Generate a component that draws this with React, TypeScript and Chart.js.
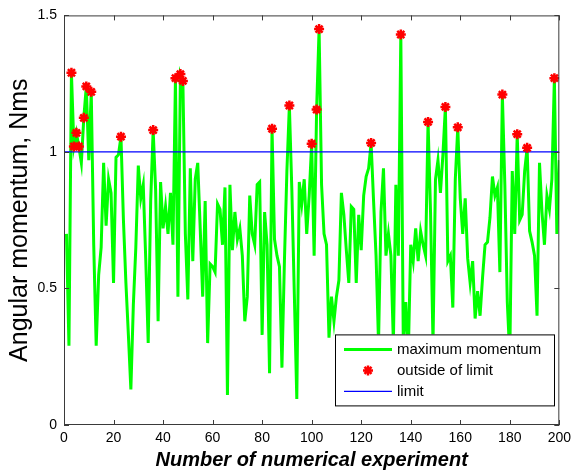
import React, { useEffect, useRef } from 'react';
import { Chart, registerables } from 'chart.js';

Chart.register(...registerables);

// Maximum angular momentum for each numerical experiment (1..200)
const momentum: number[] = [
  0.70, 0.29, 1.29, 1.02, 1.07, 1.02, 0.96, 1.125, 1.24, 0.97,
  1.22, 0.66, 0.29, 0.55, 0.65, 0.96, 0.73, 0.90, 0.85, 0.52,
  0.98, 0.99, 1.056, 0.75, 0.52, 0.33, 0.13, 0.44, 0.65, 0.95,
  0.83, 0.88, 0.61, 0.30, 0.82, 1.08, 0.86, 0.38, 0.89, 0.72,
  0.80, 0.70, 0.85, 0.66, 1.27, 0.47, 1.285, 1.26, 0.70, 0.46,
  0.94, 0.60, 0.90, 0.96, 0.72, 0.47, 0.82, 0.30, 0.59, 0.58,
  0.56, 0.81, 0.79, 0.66, 0.87, 0.11, 0.88, 0.64, 0.78, 0.68,
  0.72, 0.62, 0.38, 0.47, 0.84, 0.70, 0.66, 0.88, 0.89, 0.33,
  0.78, 0.66, 0.19, 1.085, 0.68, 0.62, 0.58, 0.21, 0.60, 0.93,
  1.17, 0.86, 0.48, 0.095, 0.89, 0.81, 0.90, 0.70, 0.84, 1.03,
  0.62, 1.155, 1.45, 0.88, 0.70, 0.66, 0.32, 0.47, 0.38, 0.47,
  0.53, 0.85, 0.77, 0.64, 0.52, 0.80, 0.79, 0.52, 0.77, 0.64,
  0.84, 0.91, 0.94, 1.033, 0.82, 0.62, 0.30, 0.78, 0.94, 0.62,
  0.70, 0.62, 0.30, 0.88, 0.62, 1.43, 0.30, 0.45, 0.25, 0.66,
  0.60, 0.72, 0.60, 0.71, 0.66, 0.62, 1.11, 0.78, 0.30, 0.90,
  0.97, 0.85, 0.99, 1.165, 0.60, 0.62, 0.43, 0.90, 1.09, 0.83,
  0.70, 0.83, 0.61, 0.52, 0.60, 0.39, 0.49, 0.40, 0.54, 0.66,
  0.67, 0.76, 0.91, 0.84, 0.87, 0.56, 1.21, 0.88, 0.45, 0.25,
  0.93, 0.70, 1.065, 0.75, 0.77, 0.93, 1.015, 0.71, 0.67, 0.62,
  0.40, 0.96, 0.78, 0.66, 0.84, 0.79, 0.90, 1.27, 0.70, 0.97,
];

const limit = 1;
const xRange = [0, 200];
const yRange = [0, 1.5];
const xTicks = [0, 20, 40, 60, 80, 100, 120, 140, 160, 180, 200];
const yTicks = [0, 0.5, 1, 1.5];
const yTickLabels = ['0', '0.5', '1', '1.5'];

const FONT = '"Liberation Sans", Arial, Helvetica, sans-serif';

const framePlugin = {
  id: 'matlabFrame',
  afterDatasetsDraw(chart: any) {
    const { ctx, chartArea, scales } = chart;
    const { left, right, top, bottom } = chartArea;
    ctx.save();
    ctx.strokeStyle = '#3a3a3a';
    ctx.lineWidth = 1;
    ctx.strokeRect(left + 0.5, top + 0.5, right - left - 1, bottom - top - 1);
    ctx.beginPath();
    const tl = 5;
    xTicks.forEach((v) => {
      const px = Math.round(scales.x.getPixelForValue(v)) + 0.5;
      ctx.moveTo(px, bottom);
      ctx.lineTo(px, bottom - tl);
      ctx.moveTo(px, top);
      ctx.lineTo(px, top + tl);
    });
    yTicks.forEach((v) => {
      const py = Math.round(scales.y.getPixelForValue(v)) + 0.5;
      ctx.moveTo(left, py);
      ctx.lineTo(left + tl, py);
      ctx.moveTo(right, py);
      ctx.lineTo(right - tl, py);
    });
    ctx.stroke();
    ctx.restore();
  },
  afterDraw(chart: any) {
    const { ctx, chartArea } = chart;
    const ds = chart.data.datasets;
    const boxL = chartArea.left + 271;
    const boxT = chartArea.top + 319;
    const boxW = 219;
    const boxH = 71;
    ctx.save();
    ctx.fillStyle = '#ffffff';
    ctx.fillRect(boxL, boxT, boxW, boxH);
    ctx.strokeStyle = '#000000';
    ctx.lineWidth = 1;
    ctx.strokeRect(boxL + 0.5, boxT + 0.5, boxW, boxH);
    const rows = [boxT + 15, boxT + 36, boxT + 57];
    const order = [0, 1, 2];
    order.forEach((di, r) => {
      const d = ds[di];
      const y = rows[r];
      const x0 = boxL + 9;
      const x1 = boxL + 57;
      ctx.strokeStyle = d.borderColor;
      ctx.lineWidth = d.borderWidth;
      ctx.beginPath();
      if (d.showLine === false) {
        const cx = (x0 + x1) / 2;
        const rr = d.pointRadius;
        ctx.moveTo(cx - rr, y); ctx.lineTo(cx + rr, y);
        ctx.moveTo(cx, y - rr); ctx.lineTo(cx, y + rr);
        const q = rr * 0.7071;
        ctx.moveTo(cx - q, y - q); ctx.lineTo(cx + q, y + q);
        ctx.moveTo(cx - q, y + q); ctx.lineTo(cx + q, y - q);
      } else {
        ctx.moveTo(x0, y);
        ctx.lineTo(x1, y);
      }
      ctx.stroke();
      ctx.fillStyle = '#000000';
      ctx.font = `15px ${FONT}`;
      ctx.textAlign = 'left';
      ctx.textBaseline = 'middle';
      ctx.fillText(d.label, boxL + 62, y);
    });
    ctx.restore();
  },
};

export default function App() {
  const canvasRef = useRef<HTMLCanvasElement | null>(null);

  useEffect(() => {
    if (!canvasRef.current) return;
    const linePts = momentum.map((v, i) => ({ x: i + 1, y: v }));
    const outside = linePts.filter((p) => p.y > limit);
    const limitPts = [
      { x: xRange[0], y: limit },
      { x: xRange[1], y: limit },
    ];

    const chart = new Chart(canvasRef.current, {
      type: 'line',
      data: {
        datasets: [
          {
            label: 'maximum momentum',
            data: linePts,
            borderColor: '#00ff00',
            backgroundColor: '#00ff00',
            borderWidth: 3,
            pointRadius: 0,
            tension: 0,
            order: 3,
          } as any,
          {
            label: 'outside of limit',
            data: outside,
            showLine: false,
            pointStyle: 'star',
            pointRadius: 5,
            borderWidth: 2.5,
            borderColor: '#ff0000',
            backgroundColor: '#ff0000',
            order: 1,
          } as any,
          {
            label: 'limit',
            data: limitPts,
            borderColor: '#0000ff',
            backgroundColor: '#0000ff',
            borderWidth: 1.3,
            pointRadius: 0,
            order: 2,
          } as any,
        ],
      },
      options: {
        animation: false,
        responsive: false,
        layout: { padding: { top: 14, right: 12, left: 0, bottom: 0 } },
        plugins: {
          legend: { display: false },
          tooltip: { enabled: false },
        },
        scales: {
          x: {
            type: 'linear',
            min: xRange[0],
            max: xRange[1],
            afterBuildTicks: (s: any) => {
              s.ticks = xTicks.map((v) => ({ value: v }));
            },
            afterFit: (s: any) => {
              s.height = 47;
            },
            grid: { display: false, drawTicks: false, tickLength: 0 },
            border: { display: false },
            ticks: {
              color: '#000',
              padding: 5,
              maxRotation: 0,
              font: { family: FONT, size: 14 },
              callback: (v: any) => String(v),
            },
            title: {
              display: true,
              text: 'Number of numerical experiment',
              color: '#000',
              padding: { top: 0, bottom: 0 },
              font: { family: FONT, size: 20, weight: 'bold', style: 'italic' },
            },
          },
          y: {
            type: 'linear',
            min: yRange[0],
            max: yRange[1],
            afterBuildTicks: (s: any) => {
              s.ticks = yTicks.map((v) => ({ value: v }));
            },
            afterFit: (s: any) => {
              s.width = 64;
            },
            grid: { display: false, drawTicks: false, tickLength: 0 },
            border: { display: false },
            ticks: {
              color: '#000',
              padding: 7,
              font: { family: FONT, size: 14 },
              callback: (v: any) => {
                const i = yTicks.indexOf(Number(v));
                return i >= 0 ? yTickLabels[i] : '';
              },
            },
            title: {
              display: true,
              text: 'Angular momentum, Nms',
              color: '#000',
              padding: { top: 5, bottom: 0 },
              font: { family: FONT, size: 25 },
            },
          },
        },
      } as any,
      plugins: [framePlugin],
    });

    return () => chart.destroy();
  }, []);

  return (
    <div style={{ position: 'absolute', left: 0, top: 0, width: 576, height: 472, background: '#fff' }}>
      <canvas ref={canvasRef} width={576} height={472} style={{ width: 576, height: 472, display: 'block' }} />
    </div>
  );
}
